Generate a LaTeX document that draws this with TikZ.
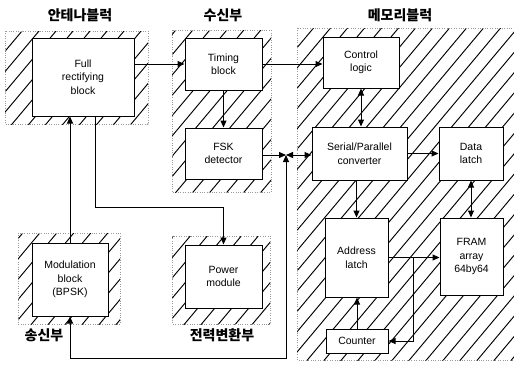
\documentclass[tikz,border=0pt]{standalone}
\usepackage{fontspec}
\setmainfont{Liberation Sans}
\newfontfamily\kr{Noto Sans CJK KR}
\usetikzlibrary{arrows.meta}
\begin{document}
\begin{tikzpicture}[x=1pt,y=-1pt,
  box/.style={draw,fill=white,line width=1pt,align=center,inner sep=0pt,
    font=\fontsize{10.5}{13.5}\selectfont},
  hatchline/.style={line width=0.95pt,black},
  regionborder/.style={draw=black!40, dotted, line width=0.4pt},
  title/.style={font=\kr\bfseries\fontsize{14}{16}\selectfont},
  conn/.style={line width=1pt,-{Triangle[length=7pt,width=6pt]}},
  dconn/.style={line width=1pt,{Triangle[length=7pt,width=6pt]}-{Triangle[length=7pt,width=6pt]}}
]
\useasboundingbox (0,0) rectangle (514,365);

% hatched regions
\foreach \xa/\ya/\xb/\yb in {5/31/148/124, 172/30/271/192, 297/28/514/360, 18/233/120/324, 172/236/270/324}{
  \begin{scope}
    \clip (\xa,\ya) rectangle (\xb,\yb);
    \foreach \s in {-330,-313,...,520}
      \draw[hatchline] (\s,370) -- ++(310,-370);
  \end{scope}
  \path[regionborder] (\xa,\ya) rectangle (\xb,\yb);
}

% titles
\node[title] (t1) at (80,15) {안테나블럭};
\node[title] (t2) at (223,15) {수신부};
\node[title] (t3) at (400,15) {메모리블럭};
\node[title] (t4) at (44,335) {송신부};
\node[title] (t5) at (222,335) {전력변환부};

% boxes
\node[box,minimum width=102pt,minimum height=78pt] (rect) at (83,77) {Full\\rectifying\\block};
\node[box,minimum width=76pt,minimum height=73pt] (mod) at (70,279.5) {Modulation\\block\\(BPSK)};
\node[box,minimum width=77pt,minimum height=52pt] (timing) at (223.5,64) {Timing\\block};
\node[box,minimum width=77pt,minimum height=51pt] (fsk) at (223.5,153.5) {FSK\\detector};
\node[box,minimum width=77pt,minimum height=63pt] (power) at (223.5,276.5) {Power\\module};
\node[box,minimum width=76pt,minimum height=51pt] (control) at (361,62.5) {Control\\logic};
\node[box,minimum width=95pt,minimum height=53pt] (sp) at (359.5,153.5) {Serial/Parallel\\converter};
\node[box,minimum width=64pt,minimum height=53pt] (data) at (471,153.5) {Data\\latch};
\node[box,minimum width=63pt,minimum height=79pt] (addr) at (356.5,257.5) {Address\\latch};
\node[box,minimum width=63pt,minimum height=77pt] (fram) at (471.5,256.5) {FRAM\\array\\64by64};
\node[box,minimum width=62pt,minimum height=24pt] (counter) at (357,341) {Counter};

% helper coordinates
\coordinate (J) at (286,155);
\coordinate (B1) at (286,358);
\coordinate (B2) at (70,358);
\coordinate (P1) at (95,207);
\coordinate (K) at (413,257.5);

% connectors
\draw[conn] (rect.east |- timing.west) -- (timing.west);
\draw[conn] (timing.east) -- (timing.east -| control.west);
\draw[conn] (timing.south) -- (fsk.north);
\draw[conn] (fsk.east |- J) -- (J);
\draw[dconn] (J) -- (J -| sp.west);
\draw[dconn] (J) -- (B1) -- (B2) -- (mod.south);
\draw[conn] (mod.north) -- (mod.north |- rect.south);
\draw[conn] (P1 |- rect.south) -- (P1) -- (P1 -| power.north) -- (power.north);
\draw[dconn] (control.south) -- (control.south |- sp.north);
\draw[conn] (sp.east) -- (data.west);
\draw[dconn] (data.south) -- (data.south |- fram.north);
\draw[conn] (sp.south -| addr.north) -- (addr.north);
\draw[conn] (addr.east) -- (addr.east -| fram.west);
\draw[conn] (K) |- (counter.east);
\draw[conn] (counter.north) -- (counter.north |- addr.south);
\end{tikzpicture}
\end{document}
